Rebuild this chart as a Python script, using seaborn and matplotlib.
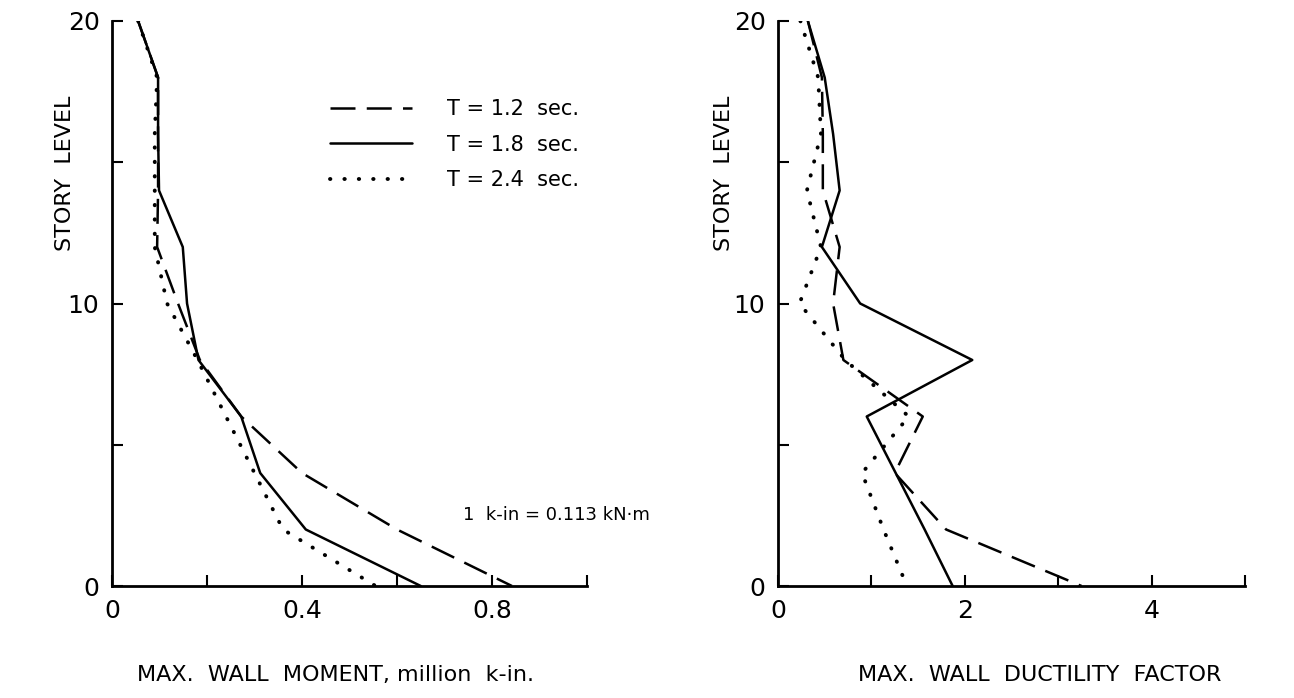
import matplotlib
matplotlib.use("Agg")
import matplotlib.pyplot as plt
import seaborn as sns
import pandas as pd

# ---------------- data ----------------
stories = [20, 18, 16, 14, 12, 10, 8, 6, 4, 2, 0]

# max wall moment, million k-in
moment_T12 = [0.055, 0.097, 0.097, 0.097, 0.095, 0.139, 0.185, 0.272, 0.400, 0.600, 0.842]
moment_T18 = [0.055, 0.097, 0.097, 0.099, 0.149, 0.158, 0.182, 0.272, 0.312, 0.408, 0.650]
moment_T24 = [0.055, 0.095, 0.090, 0.090, 0.090, 0.116, 0.180, 0.240, 0.300, 0.360, 0.555]

# max wall ductility factor
duct_T12 = [0.32, 0.47, 0.48, 0.48, 0.66, 0.59, 0.70, 1.55, 1.25, 1.80, 3.25]
duct_T18 = [0.32, 0.50, 0.59, 0.66, 0.47, 0.88, 2.08, 0.95, 1.26, 1.57, 1.87]
duct_T24 = [0.24, 0.43, 0.46, 0.31, 0.46, 0.23, 0.72, 1.40, 0.90, 1.13, 1.38]

series_labels = ["T = 1.2  sec.", "T = 1.8  sec.", "T = 2.4  sec."]

left_xticks = [0, 0.2, 0.4, 0.6, 0.8, 1.0]
left_xticklabels = ["0", "", "0.4", "", "0.8", ""]
right_xticks = [0, 1, 2, 3, 4, 5]
right_xticklabels = ["0", "", "2", "", "4", ""]
yticks = [0, 5, 10, 15, 20]
yticklabels = ["0", "", "10", "", "20"]

# ---------------- style ----------------
sns.set_theme(style="ticks")
plt.rcParams["font.family"] = ["DejaVu Sans"]
plt.rcParams["text.color"] = "black"
plt.rcParams["axes.labelcolor"] = "black"

fig = plt.figure(figsize=(12.94, 6.98), dpi=100)
W, H = 1294, 698
ax1 = fig.add_axes([112 / W, 1 - 586 / H, (587 - 112) / W, (586 - 21) / H])
ax2 = fig.add_axes([778 / W, 1 - 586 / H, (1245 - 778) / W, (586 - 21) / H])

styles = [
    dict(linestyle=(0, (10, 4.5)), linewidth=1.8),
    dict(linestyle="-", linewidth=1.8),
    dict(linestyle=(0, (0.1, 3.6)), linewidth=2.8, dash_capstyle="round"),
]

def draw(ax, xs_list):
    for xs, lab, st in zip(xs_list, series_labels, styles):
        df = pd.DataFrame({"x": xs, "story": stories})
        sns.lineplot(data=df, x="x", y="story", sort=False, estimator=None,
                     color="black", label=lab, ax=ax, **st)

draw(ax1, [moment_T12, moment_T18, moment_T24])
draw(ax2, [duct_T12, duct_T18, duct_T24])

for ax, xt, xtl, xlim in [(ax1, left_xticks, left_xticklabels, (0, 1.0)),
                          (ax2, right_xticks, right_xticklabels, (0, 5))]:
    ax.set_xlim(*xlim)
    ax.set_ylim(0, 20)
    ax.set_xticks(xt)
    ax.set_xticklabels(xtl)
    ax.set_yticks(yticks)
    ax.set_yticklabels(yticklabels)
    ax.tick_params(direction="in", length=8, width=1.5, labelsize=18,
                   color="black", labelcolor="black", pad=9)
    sns.despine(ax=ax)
    for s in ["left", "bottom"]:
        ax.spines[s].set_linewidth(2)
        ax.spines[s].set_color("black")
    ax.set_ylabel("STORY  LEVEL", fontsize=16, color="black")

ax1.set_xlabel("MAX.  WALL  MOMENT, million  k-in.", fontsize=16, color="black")
ax2.set_xlabel("MAX.  WALL  DUCTILITY  FACTOR", fontsize=16, color="black")
ax1.xaxis.set_label_coords(0.47, -0.14)
ax2.xaxis.set_label_coords(0.56, -0.14)
ax1.yaxis.set_label_coords(-0.078, 0.73)
ax2.yaxis.set_label_coords(-0.095, 0.73)

leg = ax1.legend(loc="upper left", bbox_to_anchor=(0.42, 0.895), frameon=False,
                 fontsize=15, handlelength=3.9, handletextpad=1.7, labelspacing=0.75)
for t in leg.get_texts():
    t.set_color("black")
ax2.get_legend().remove()

ax1.text(0.739, 2.5, "1  k-in = 0.113 kN·m", fontsize=13, color="black",
         va="center", ha="left")

fig.savefig("out.png", dpi=100, facecolor="white")
